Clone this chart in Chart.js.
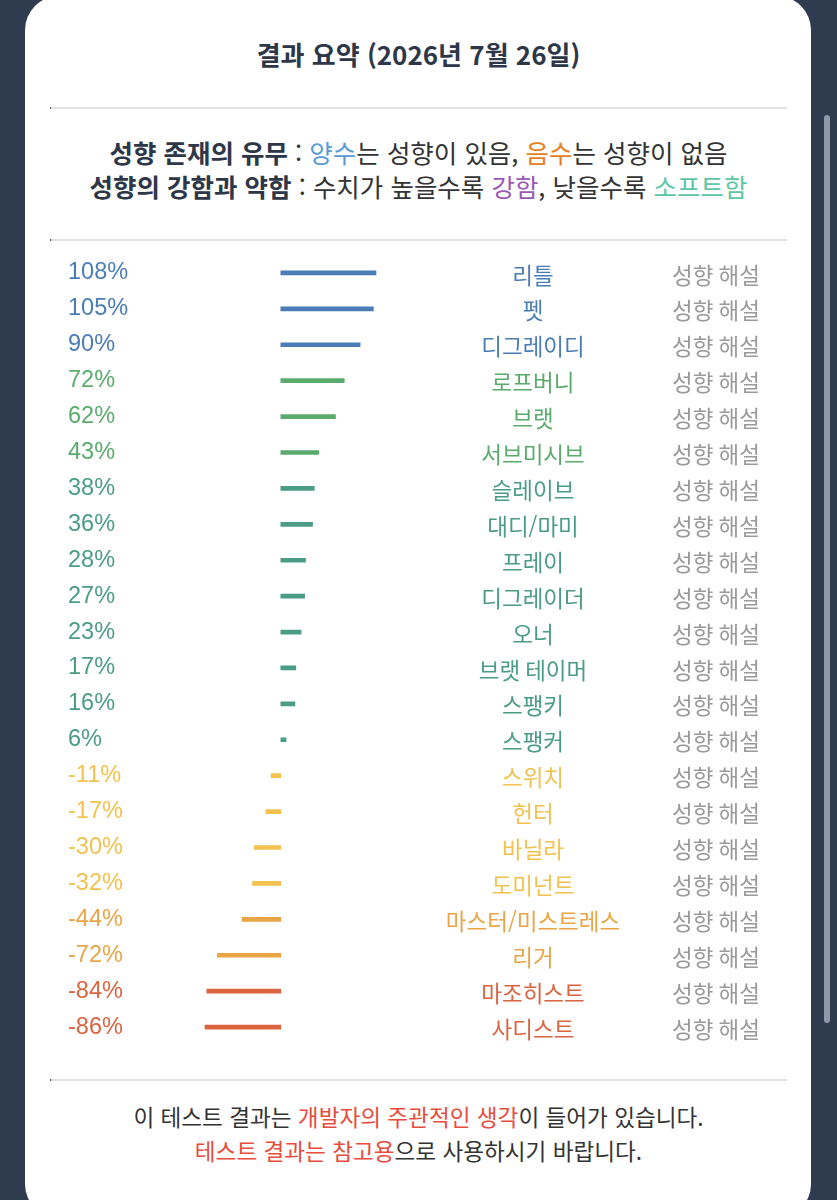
<!DOCTYPE html>
<html lang="ko">
<head>
<meta charset="utf-8">
<title>결과 요약</title>
<script src="https://cdn.jsdelivr.net/npm/chart.js@4.4.1/dist/chart.umd.min.js"></script>
<style>
  html, body { margin: 0; padding: 0; }
  body {
    width: 837px; height: 1200px; overflow: hidden; position: relative;
    background: #2f3b4e;
    font-family: "Noto Sans CJK KR", "Noto Sans", sans-serif;
  }
  .card {
    position: absolute; left: 25px; top: -4px; width: 786px; height: 1222px;
    background: #fff; border-radius: 34px;
  }
  .scroll {
    position: absolute; left: 824px; top: 115px; width: 6px; height: 908px;
    background: #8f98a6; border-radius: 3px;
  }
  .title {
    position: absolute; left: 0; width: 837px; top: 37px; text-align: center;
    font-size: 26px; font-weight: 700; color: #2d3748; line-height: 34px;
  }
  .sep {
    position: absolute; left: 50px; width: 736px; height: 2px;
    background: #e2e2e4; border-left: 1px solid #555;
  }
  .info {
    position: absolute; left: 0; width: 837px; top: 135px; text-align: center;
    font-size: 25.5px; color: #333; line-height: 34px;
  }
  .info b { color: #2d3748; }
  .foot {
    position: absolute; left: 0; width: 837px; top: 1100px; text-align: center;
    font-size: 22.6px; color: #333; line-height: 34px;
  }
  .blue { color: #5b9bd5; }
  .orange { color: #e67e22; }
  .purple { color: #9b59b6; }
  .teal { color: #5cc7a4; }
  .red { color: #e74c3c; }
  #chart { position: absolute; left: 25px; top: 255px; }
</style>
</head>
<body>
<div class="card"></div>
<div class="scroll"></div>
<div class="title">결과 요약 (2026년 7월 26일)</div>
<div class="sep" style="top:107px"></div>
<div class="info">
  <div><b>성향 존재의 유무</b> : <span class="blue">양수</span>는 성향이 있음, <span class="orange">음수</span>는 성향이 없음</div>
  <div><b>성향의 강함과 약함</b> : 수치가 높을수록 <span class="purple">강함</span>, 낮을수록 <span class="teal">소프트함</span></div>
</div>
<div class="sep" style="top:239px"></div>
<canvas id="chart" width="786" height="790"></canvas>
<div class="sep" style="top:1079px"></div>
<div class="foot">
  <div>이 테스트 결과는 <span class="red">개발자의 주관적인 생각</span>이 들어가 있습니다.</div>
  <div><span class="red">테스트 결과는 참고용</span>으로 사용하시기 바랍니다.</div>
</div>

<script>
// 성향 이름과 수치 (%)
const names = [
  '리틀', '펫', '디그레이디', '로프버니', '브랫', '서브미시브', '슬레이브',
  '대디/마미', '프레이', '디그레이더', '오너', '브랫 테이머', '스팽키', '스팽커',
  '스위치', '헌터', '바닐라', '도미넌트', '마스터/미스트레스', '리거', '마조히스트', '사디스트'
];
const values = [108, 105, 90, 72, 62, 43, 38, 36, 28, 27, 23, 17, 16, 6,
  -11, -17, -30, -32, -44, -72, -84, -86];
const linkText = '성향 해설';

/* colour depends on the value band */
function colorFor(v) {
  if (v >= 90) return '#4a7db5';
  if (v >= 40) return '#5aab6c';
  if (v > 0) return '#4b9c86';
  if (v > -40) return '#f2c14e';
  if (v > -80) return '#e9a545';
  return '#da6440';
}

const rowLabels = {
  id: 'rowLabels',
  afterDatasetsDraw(chart) {
    const ctx = chart.ctx;
    const y = chart.scales.y;
    ctx.save();
    ctx.textBaseline = 'middle';
    values.forEach((v, i) => {
      const py = y.getPixelForValue(i);
      const c = colorFor(v);
      ctx.fillStyle = c;
      ctx.textAlign = 'left';
      ctx.font = '23.5px "Liberation Sans", "Noto Sans CJK KR", sans-serif';
      ctx.fillText(v + '%', 43, py);
      ctx.textAlign = 'center';
      ctx.font = '22.5px "Noto Sans CJK KR", sans-serif';
      ctx.fillText(names[i], 508, py + 2);
      ctx.textAlign = 'left';
      ctx.fillStyle = '#9a9a9a';
      ctx.fillText(linkText, 647, py + 2);
    });
    ctx.restore();
  }
};

new Chart(document.getElementById('chart'), {
  type: 'bar',
  data: {
    labels: names,
    datasets: [{
      data: values,
      backgroundColor: values.map(colorFor),
      barThickness: 4,
      borderWidth: 0,
    }],
  },
  options: {
    indexAxis: 'y',
    responsive: false,
    animation: false,
    devicePixelRatio: 1,
    layout: { padding: { left: 167.7, right: 398, top: 0, bottom: 0 } },
    plugins: { legend: { display: false }, tooltip: { enabled: false } },
    scales: {
      x: { type: 'linear', min: -100, max: 150, display: false },
      y: { display: false },
    },
  },
  plugins: [rowLabels],
});
</script>
</body>
</html>
